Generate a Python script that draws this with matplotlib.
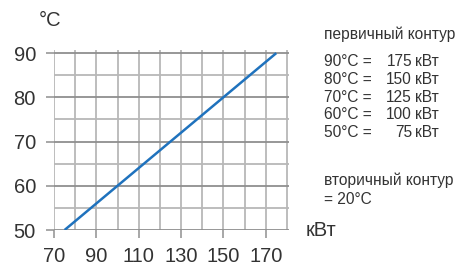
import matplotlib.pyplot as plt
from matplotlib.ticker import MultipleLocator

plt.rcParams['font.family'] = ['Liberation Sans', 'DejaVu Sans']

# Primary circuit temperature vs output power
temps = [90, 80, 70, 60, 50]
powers = [175, 150, 125, 100, 75]
x_ticks = [70, 90, 110, 130, 150, 170]
y_ticks = [50, 60, 70, 80, 90]

text_color = '#333333'
major_grey = '#8f8f8f'
minor_grey = '#b8b8b8'

fig = plt.figure(figsize=(4.62, 2.65), dpi=100)
ax = fig.add_axes([54 / 462, 35 / 265, 235 / 462, 180 / 265])

ax.plot(powers, temps, color='#1f72bd', lw=1.8, solid_capstyle='butt', zorder=3)

ax.set_xlim(70, 181)
ax.set_ylim(50, 90.7)
ax.set_xticks(x_ticks)
ax.set_yticks(y_ticks)
ax.xaxis.set_minor_locator(MultipleLocator(10))
ax.yaxis.set_minor_locator(MultipleLocator(5))

ax.grid(which='both', axis='x', color=minor_grey, lw=1.3)
ax.grid(which='major', axis='y', color=major_grey, lw=1.3)
ax.grid(which='minor', axis='y', color=minor_grey, lw=1.3)
ax.set_axisbelow(True)

for s in ax.spines.values():
    s.set_visible(False)

ax.tick_params(axis='x', which='major', length=5.5, width=1.1, color=major_grey,
               pad=6.5, labelsize=14.5, labelcolor=text_color)
ax.tick_params(axis='y', which='major', length=5.5, width=1.1, color=major_grey,
               pad=7.5, labelsize=14.5, labelcolor=text_color)
ax.tick_params(which='minor', length=0)

# axis unit labels
fig.text(50 / 462, 1 - 20 / 265, '°C', fontsize=14.5, color=text_color,
         ha='center', va='center')
fig.text(306 / 462, 1 - 231 / 265, 'кВт', fontsize=14.5, color=text_color,
         ha='left', va='center')

# legend-like text block on the right
fs = 11.2
fig.text(324 / 462, 1 - 34 / 265, 'первичный контур', fontsize=fs,
         color=text_color, va='center')
for i, (t, p) in enumerate(zip(temps, powers)):
    yy = 1 - (62 + i * 17.6) / 265
    fig.text(324 / 462, yy, f'{t}°C =', fontsize=fs, color=text_color, va='center')
    fig.text(412 / 462, yy, f'{p}', fontsize=fs, color=text_color,
             va='center', ha='right')
    fig.text(415 / 462, yy, 'кВт', fontsize=fs, color=text_color, va='center')
fig.text(324 / 462, 1 - 180 / 265, 'вторичный контур', fontsize=fs,
         color=text_color, va='center')
fig.text(324 / 462, 1 - 200 / 265, '= 20°C', fontsize=fs,
         color=text_color, va='center')

fig.savefig('out.png', dpi=100, facecolor='white')
